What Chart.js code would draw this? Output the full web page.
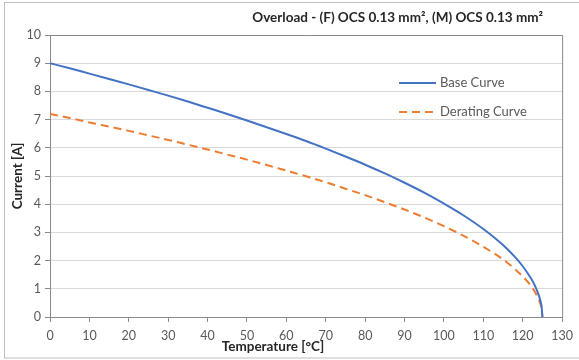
<!DOCTYPE html>
<html>
<head>
<meta charset="utf-8">
<script src="https://cdn.jsdelivr.net/npm/chart.js@4/dist/chart.umd.min.js"></script>
<style>
body { margin: 0; background: #ffffff; }
#wrap { width: 579px; height: 360px; }
</style>
</head>
<body>
<div id="wrap"><canvas id="myChart" width="579" height="360"></canvas></div>
<script>
//data
var chartTitle = 'Overload - (F) OCS 0.13 mm\u00B2, (M) OCS 0.13 mm\u00B2';
var xTitle = 'Temperature [\u00B0C]';
var yTitle = 'Current [A]';
var seriesNames = ['Base Curve', 'Derating Curve'];

var temperature = [0, 5, 10, 15, 20, 25, 30, 35, 40, 45, 50, 55, 60, 65, 70, 75, 80, 85, 90, 95, 100, 105, 110, 115, 118, 120, 122, 123, 124, 124.5, 124.8, 125];
var baseCurve = [9.00, 8.82, 8.63, 8.44, 8.25, 8.05, 7.85, 7.64, 7.42, 7.20, 6.97, 6.73, 6.49, 6.24, 5.97, 5.69, 5.40, 5.09, 4.76, 4.41, 4.02, 3.60, 3.12, 2.55, 2.13, 1.80, 1.39, 1.14, 0.80, 0.57, 0.36, 0];
var deratingCurve = [7.20, 7.06, 6.90, 6.75, 6.60, 6.44, 6.28, 6.11, 5.94, 5.76, 5.58, 5.39, 5.19, 4.99, 4.78, 4.55, 4.32, 4.07, 3.81, 3.53, 3.22, 2.88, 2.49, 2.04, 1.70, 1.44, 1.12, 0.91, 0.64, 0.46, 0.29, 0];

var xTicks = [0, 10, 20, 30, 40, 50, 60, 70, 80, 90, 100, 110, 120, 130];
var yTicks = [0, 1, 2, 3, 4, 5, 6, 7, 8, 9, 10];

//build points
function toPoints(values){
	var pts = [];
	for(var i = 0; i < temperature.length; i++)
	{
		pts.push({x: temperature[i], y: values[i]});
	}
	return pts;
}

var fontName = 'Lato, "Open Sans", sans-serif';
var labelColor = '#595959';

//frame, plot border, title, legend and axis titles
var decorations = {
	id: 'decorations',
	beforeDraw: function(chart){
		var c = chart.ctx;
		c.save();
		c.fillStyle = '#ffffff';
		c.fillRect(0, 0, chart.width, chart.height);
		c.strokeStyle = '#bfbfbf';
		c.lineWidth = 1;
		c.strokeRect(4.5, 2.5, 620, 355.5);
		c.restore();
	},
	afterDraw: function(chart){
		var c = chart.ctx;
		var a = chart.chartArea;
		c.save();
		//plot area border
		c.strokeStyle = '#898989';
		c.lineWidth = 1;
		c.beginPath();
		c.moveTo(a.left, a.top + 0.5);
		c.lineTo(a.right + 0.5, a.top + 0.5);
		c.lineTo(a.right + 0.5, a.bottom);
		c.stroke();

		//title
		c.fillStyle = '#262626';
		c.font = 'bold 13.5px ' + fontName;
		c.textAlign = 'right';
		c.textBaseline = 'middle';
		c.fillText(chartTitle, 543, 18);

		//legend inside plot
		var ly = [83, 112];
		chart.data.datasets.forEach(function(ds, i){
			c.strokeStyle = ds.borderColor;
			c.lineWidth = ds.borderWidth;
			c.setLineDash(ds.borderDash || []);
			c.beginPath();
			c.moveTo(399, ly[i]);
			c.lineTo(436, ly[i]);
			c.stroke();
			c.setLineDash([]);
			c.fillStyle = labelColor;
			c.font = '13px ' + fontName;
			c.textAlign = 'left';
			c.fillText(ds.label, 440, ly[i]);
		});

		//axis titles
		c.fillStyle = '#262626';
		c.font = 'bold 13.5px ' + fontName;
		c.textAlign = 'center';
		c.fillText(xTitle, 273, 347);
		c.translate(18, 176);
		c.rotate(-Math.PI / 2);
		c.fillText(yTitle, 0, 0);
		c.restore();
	}
};

var ctx = document.getElementById('myChart');

var myChart = new Chart(ctx, {
	type: 'scatter',
	data: {
		datasets: [
			{
				label: seriesNames[0],
				data: toPoints(baseCurve),
				showLine: true,
				borderColor: '#4472C4',
				borderWidth: 2,
				pointRadius: 0,
				cubicInterpolationMode: 'monotone'
			},
			{
				label: seriesNames[1],
				data: toPoints(deratingCurve),
				showLine: true,
				borderColor: '#ED7D31',
				borderWidth: 2,
				borderDash: [8, 5],
				pointRadius: 0,
				cubicInterpolationMode: 'monotone'
			}
		]
	},
	options: {
		responsive: false,
		animation: false,
		layout: { padding: { left: 0, top: 35, right: 12, bottom: 0 } },
		plugins: {
			legend: { display: false },
			tooltip: { enabled: false }
		},
		scales: {
			x: {
				type: 'linear',
				min: 0,
				max: 130,
				afterBuildTicks: function(scale){
					scale.ticks = xTicks.map(function(v){ return {value: v}; });
				},
				afterFit: function(scale){ scale.height = 43; },
				grid: { drawOnChartArea: false, tickLength: 5, tickColor: '#898989' },
				border: { color: '#898989', width: 1 },
				ticks: { color: labelColor, font: { family: fontName, size: 12.5 }, padding: 6, maxRotation: 0 }
			},
			y: {
				min: 0,
				max: 10,
				afterBuildTicks: function(scale){
					scale.ticks = yTicks.map(function(v){ return {value: v}; });
				},
				afterFit: function(scale){ scale.width = 50; },
				grid: { color: '#d9d9d9', tickLength: 5, tickColor: '#898989', lineWidth: 1 },
				border: { color: '#898989', width: 1 },
				ticks: { color: labelColor, font: { family: fontName, size: 12.5 }, padding: 4 }
			}
		}
	},
	plugins: [decorations]
});
</script>
</body>
</html>
